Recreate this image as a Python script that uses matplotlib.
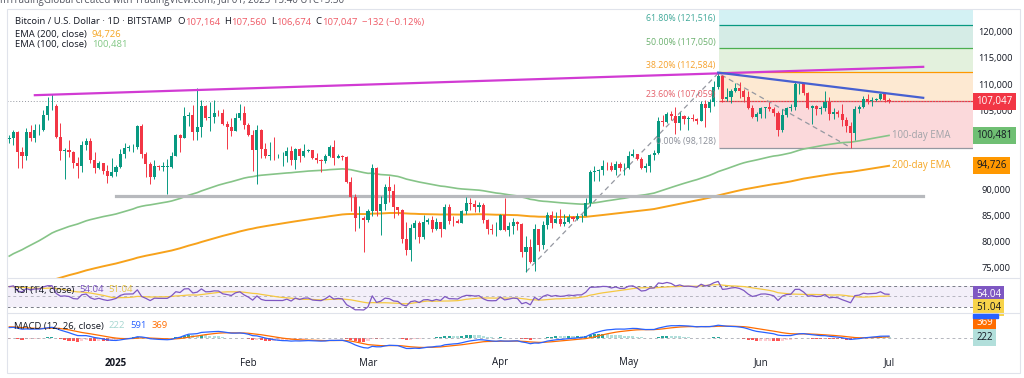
import numpy as np
import pandas as pd
import matplotlib
matplotlib.use("Agg")
import matplotlib.pyplot as plt
from matplotlib.patches import Rectangle
from matplotlib.transforms import blended_transform_factory

plt.rcParams['font.family'] = ['Open Sans', 'DejaVu Sans']

W, H = 1024, 378

# ---- daily BTC/USD (Bitstamp) from 2024-12-07 to 2025-07-01 ----
first_open = 99800  # close of Dec 6

closes_dec = [99900, 101150, 97350, 96600, 101150, 100000, 101400, 101400, 104300, 106050,
              106100, 100200, 97450, 97750, 97200, 95100, 94700, 98700, 99400, 95800,
              94200, 95100, 93700, 92800, 93400]
highs_dec = [100500, 101400, 101200, 98300, 101900, 102500, 102600, 102600, 105200, 107800,
             108300, 106500, 102800, 98000, 99500, 97400, 96400, 99400, 99900, 99900,
             97300, 95500, 95200, 94900, 96100]
lows_dec = [98900, 98700, 94200, 94300, 95700, 99300, 99200, 100600, 101200, 103300,
            105300, 100000, 95700, 92200, 96400, 94200, 92400, 93400, 97600, 95200,
            93300, 94100, 93000, 91400, 92600]

closes_jan = [94400, 96900, 98100, 98200, 98300, 102200, 96900, 95000, 92500, 94700,
              94500, 94500, 94500, 96500, 100500, 99900, 104100, 104400, 101100, 102000,
              106100, 103700, 103900, 104800, 104700, 102600, 102000, 101300, 103700, 104700, 102400]
highs_jan = [94900, 97800, 98900, 98700, 98800, 102500, 102700, 97200, 95300, 95800,
             94900, 95400, 95900, 97300, 100700, 100800, 105800, 104900, 106300, 109400,
             107200, 106300, 106800, 107100, 105300, 105500, 103200, 103700, 104800, 106400, 106000]
lows_jan = [92800, 94200, 96200, 97500, 97300, 97900, 96200, 92500, 91200, 92200,
            93800, 93700, 89200, 94300, 96500, 97300, 99900, 102300, 99600, 99500,
            100100, 103400, 101300, 102800, 104100, 102500, 97800, 100300, 101300, 103300, 101600]

closes_feb = [100600, 97700, 101400, 97800, 96600, 96600, 96500, 96500, 96500, 97400,
              95800, 97800, 96600, 97500, 97600, 96100, 95800, 95600, 96600, 98300,
              96200, 96600, 96300, 91500, 88700, 84700, 84700, 84400]
highs_feb = [102800, 101500, 102500, 101700, 99000, 99200, 100100, 96900, 97300, 98300,
             98500, 98100, 98000, 98800, 97900, 97700, 97000, 96000, 96900, 98700,
             99500, 96900, 96800, 96500, 92500, 89300, 87000, 85100]
lows_feb = [100300, 93700, 91200, 96200, 96200, 95700, 95700, 96100, 94700, 95300,
            94900, 94100, 95300, 96300, 97200, 96000, 95200, 93400, 95100, 96400,
            94900, 96100, 95800, 91300, 86100, 82300, 82800, 78200]

closes_mar = [86000, 94300, 86100, 87300, 90600, 89900, 86800, 86200, 80700, 78600,
              82900, 83700, 81100, 84000, 84300, 82600, 84000, 82700, 86900, 84200,
              84100, 83800, 86100, 87500, 87400, 86900, 87200, 84400, 82600, 82400, 82500]
highs_mar = [86500, 95000, 94400, 88900, 91100, 92800, 91200, 86900, 86500, 84000,
             83600, 84300, 84200, 85300, 84700, 85000, 84700, 84000, 87400, 87400,
             85100, 84500, 86200, 88800, 88500, 88200, 87800, 87500, 84600, 83500, 83900]
lows_mar = [83900, 85100, 85000, 81400, 86300, 87800, 84700, 85300, 80000, 77600,
            76600, 80800, 79900, 80800, 83600, 82000, 82500, 81100, 82600, 83600,
            83200, 83700, 83700, 85500, 86300, 85900, 85900, 83700, 81600, 81600, 81300]

closes_apr = [85200, 82500, 83100, 83900, 83500, 78300, 79200, 76300, 82600, 79600,
              83400, 85300, 83700, 84500, 83600, 84000, 84900, 84500, 85100, 85100,
              87500, 93400, 93700, 93900, 94700, 94600, 93800, 95000, 94200, 94200]
highs_apr = [85500, 88500, 83900, 84700, 84200, 83800, 81200, 80800, 83500, 82700,
             84200, 85800, 86100, 85800, 86500, 85500, 85500, 85100, 85600, 85400,
             88500, 93900, 94700, 94000, 95800, 95300, 95300, 95600, 95400, 95100]
lows_apr = [82400, 82300, 81200, 81600, 82400, 77200, 74450, 76200, 74600, 78500,
            78900, 82700, 82900, 83700, 83100, 83100, 83800, 84100, 84400, 83900,
            85100, 87000, 91700, 91700, 92900, 93900, 93600, 92900, 93700, 92900]

closes_may = [96500, 96900, 95900, 94300, 94700, 96800, 97000, 103200, 102900, 104600,
              104100, 102800, 104200, 103500, 103700, 103500, 103200, 106400, 105600, 106800,
              109600, 111700, 107300, 107800, 108900, 109400, 108900, 107800, 105600, 103900, 104600]
highs_may = [97400, 97900, 96900, 96300, 95200, 96900, 97700, 103900, 104300, 104900,
             105000, 105800, 104900, 104300, 104100, 104500, 103700, 107000, 107100, 107300,
             110800, 112250, 111900, 109500, 109300, 110400, 110700, 109300, 108900, 106300, 104900]
lows_may = [94100, 96300, 95700, 94000, 93500, 93400, 95800, 96900, 102300, 102800,
            103300, 100700, 101500, 102600, 101400, 103100, 102600, 103100, 102000, 104900,
            106100, 109300, 106800, 106900, 106600, 108800, 107600, 106800, 105400, 103700, 103100]

closes_jun = [105700, 105800, 105400, 104700, 101500, 104300, 105600, 105800, 110200, 110300,
              108600, 105700, 106000, 105400, 105600, 106800, 104600, 104900, 104600, 103300,
              102200, 100900, 105400, 105800, 107300, 106900, 107100, 107300, 108400, 107179]
highs_jun = [105900, 105900, 106800, 105900, 105000, 105400, 105900, 106400, 110600, 110400,
             110400, 108800, 106200, 106200, 106100, 108900, 107700, 105600, 105200, 106500,
             103900, 103000, 106000, 106200, 108000, 108300, 107700, 107600, 108500, 108800]
lows_jun = [103800, 103700, 105000, 104200, 100400, 101100, 103900, 105100, 105300, 108400,
            108100, 105400, 102700, 104300, 104600, 105000, 103400, 103600, 103900, 102300,
            101000, 98128, 99600, 104700, 105600, 106500, 106100, 106900, 107100, 106800]

closes_jul = [107047]
highs_jul = [107560]
lows_jul = [106674]

# closes before the visible window, only used to warm up RSI / MACD
warmup_closes = [75900, 76500, 76700, 80400, 88700, 87900, 90500, 87300, 91100, 90600,
                 89800, 90500, 92300, 94300, 98400, 98900, 97700, 98000, 93100, 91900,
                 95900, 95600, 97500, 96400, 97200, 95800, 96000, 98700, 96900, 99800]

# EMA values at the left edge of the chart
ema100_seed = 77000
ema200_seed = 69500

# values printed in the legends / scale tags
ohlc_last = [107164, 107560, 106674, 107047]
change_text = '−132 (−0.12%)'
ema200_last = 94726
ema100_last = 100481
rsi_last = 54.04
rsi_ma_last = 51.04
macd_hist_last = 222
macd_last = 591
signal_last = 369

# drawings
resistance_dates = ['2024-12-13', '2025-07-09']
resistance_prices = [108100, 113500]
falling_dates = ['2025-05-22', '2025-07-09']
falling_prices = [112400, 107600]
support_dates = ['2025-01-01', '2025-07-09']
support_price = 88900
fib_dates = ['2025-04-07', '2025-05-22', '2025-06-22']
fib_prices = [74450, 112294, 98128]
fib_ratios = [0, 0.236, 0.382, 0.5, 0.618, 1.0]
fib_line_colors = ['#9598a1', '#f23645', '#ff9800', '#4caf50', '#089981', '#089981']
fib_fill_colors = ['#fbd9db', '#fde9d2', '#e3f1dd', '#d5ece6', '#d3f1f4']
fib_text_colors = ['#8a8e98', '#e5616b', '#f5a02a', '#6bb06e', '#3fa898']

month_labels = ['2025', 'Feb', 'Mar', 'Apr', 'May', 'Jun', 'Jul']
month_dates = ['2025-01-01', '2025-02-01', '2025-03-01', '2025-04-01',
               '2025-05-01', '2025-06-01', '2025-07-01']
# 95,000 and 100,000 sit under the EMA tags, so TradingView hides them
price_ticks = [75000, 80000, 85000, 90000, 105000, 110000, 115000, 120000]

# ---- assemble ----
closes = np.array(closes_dec + closes_jan + closes_feb + closes_mar + closes_apr
                  + closes_may + closes_jun + closes_jul, dtype=float)
highs = np.array(highs_dec + highs_jan + highs_feb + highs_mar + highs_apr
                 + highs_may + highs_jun + highs_jul, dtype=float)
lows = np.array(lows_dec + lows_jan + lows_feb + lows_mar + lows_apr
                + lows_may + lows_jun + lows_jul, dtype=float)
opens = np.concatenate([[first_open], closes[:-1]])

T0 = pd.Timestamp('2025-01-01')


def day(s):
    return (pd.Timestamp(s) - T0).days


dates = pd.date_range('2024-12-07', periods=len(closes), freq='D')
x = np.array((dates - T0).days, dtype=float)


def ema(values, n, seed):
    a = 2.0 / (n + 1)
    out, e = [], seed
    for v in values:
        e = e + a * (v - e)
        out.append(e)
    return np.array(out)


def rsi(values, n=14):
    d = np.diff(values)
    g = np.clip(d, 0, None)
    l = np.clip(-d, 0, None)
    out = np.full(len(values), np.nan)
    ag, al = g[:n].mean(), l[:n].mean()
    out[n] = 100 - 100 / (1 + ag / al)
    for i in range(n, len(d)):
        ag = (ag * (n - 1) + g[i]) / n
        al = (al * (n - 1) + l[i]) / n
        out[i + 1] = 100 - 100 / (1 + ag / al)
    return out


ema100 = ema(closes, 100, ema100_seed)
ema200 = ema(closes, 200, ema200_seed)

full = np.concatenate([warmup_closes, closes])
nw = len(warmup_closes)
rsi_full = rsi(full)
rsi_ma = pd.Series(rsi_full).rolling(14).mean().values[nw:]
rsi_v = rsi_full[nw:]
macd_full = ema(full, 12, full[0]) - ema(full, 26, full[0])
signal_full = ema(macd_full, 9, macd_full[0])
macd = macd_full[nw:]
signal = signal_full[nw:]
hist = macd - signal
hist_prev = (macd_full - signal_full)[nw - 1:-1]

# ---- figure ----
fig = plt.figure(figsize=(W / 100, H / 100), dpi=100)
fig.patch.set_facecolor('white')


def fx(px):
    return px / W


def fy(py):
    return 1 - py / H


L, R = 7, 973
XL, XR = -25.52, 200.66
ax = fig.add_axes([fx(L), fy(278), fx(R) - fx(L), fy(9) - fy(278)])
ax_rsi = fig.add_axes([fx(L), fy(313), fx(R) - fx(L), fy(278) - fy(313)])
ax_macd = fig.add_axes([fx(L), fy(352), fx(R) - fx(L), fy(313) - fy(352)])
for a in (ax, ax_rsi, ax_macd):
    a.set_xlim(XL, XR)
    for s in a.spines.values():
        s.set_visible(False)
    a.set_xticks([])
    a.set_yticks([])
    a.set_facecolor('none')

ax.set_ylim(73286, 124513)
ax_rsi.set_ylim(18.6, 85.2)
ax_macd.set_ylim(-4700, 8300)

# frame and pane separators
fig.add_artist(Rectangle((fx(7), fy(373)), fx(1020) - fx(7), fy(9) - fy(373),
                         transform=fig.transFigure, fill=False, ec='#e0e3eb', lw=0.8))
for py in (278, 313):
    fig.add_artist(plt.Line2D([fx(7), fx(1020)], [fy(py), fy(py)],
                              transform=fig.transFigure, color='#e0e3eb', lw=0.8))

# fib extension zones
fib_a, fib_b, fib_c = fib_prices
rng = fib_b - fib_a
levels = [fib_c + r * rng for r in fib_ratios]
fx0 = day(fib_dates[1]) + 0.3
for i in range(5):
    ax.fill_between([fx0, XR], levels[i], levels[i + 1], color=fib_fill_colors[i], lw=0, zorder=0)
for i in range(5):
    ax.hlines(levels[i], fx0, XR, color=fib_line_colors[i], lw=0.9, zorder=1)
    ax.text(fx0 - 0.9, levels[i] + 250, f'{fib_ratios[i] * 100:.2f}% ({levels[i]:,.0f})',
            ha='right', va='bottom', fontsize=6.3, color=fib_text_colors[i], zorder=6)
ax.plot([day(d) for d in fib_dates], fib_prices, color='#9598a1', lw=0.9,
        ls=(0, (4, 3)), zorder=2)

# last price line
ax.axhline(closes[-1], color='#9598a1', lw=0.7, ls=(0, (1, 2)), zorder=1)

# moving averages
ax.plot(x, ema100, color='#86c488', lw=1.2, zorder=2)
ax.plot(x, ema200, color='#f7a21b', lw=1.4, zorder=2)
ax.text(x[-1] + 0.6, ema100[-1], '100-day EMA', color='#a0a3a8', fontsize=6.9, va='center')
ax.text(x[-1] + 0.6, ema200[-1], '200-day EMA', color='#f5a623', fontsize=6.9, va='center')

# horizontal support and trend lines
ax.plot([day(d) for d in support_dates], [support_price] * 2, color='#b7b9bd', lw=2.3, zorder=2)
ax.plot([day(d) for d in resistance_dates], resistance_prices, color='#d13bd3', lw=1.6, zorder=4)
ax.plot([day(d) for d in falling_dates], falling_prices, color='#4760d1', lw=1.6, zorder=4)

# candles
up = closes >= opens
cols = np.where(up, '#089981', '#f23645')
ax.vlines(x, lows, highs, colors=cols, lw=0.7, zorder=3)
ax.bar(x, np.maximum(np.abs(closes - opens), 60), bottom=np.minimum(opens, closes),
       width=0.72, color=cols, lw=0, zorder=3)

# price scale
for v in price_ticks:
    ax.text(1.0235, v, f'{v:,}', transform=ax.get_yaxis_transform(), ha='center',
            va='center', fontsize=6.7, color='#131722', clip_on=False)


def tag(a, value, text, fc, tc, dy=0):
    a.annotate(text, xy=(1, value), xycoords=a.get_yaxis_transform(),
               xytext=(2.3, dy), textcoords='offset points', ha='left', va='center',
               fontsize=7.0, color=tc, annotation_clip=False, zorder=10,
               bbox=dict(boxstyle='square,pad=0.32', fc=fc, ec='none'))


tag(ax, ohlc_last[3], f'{ohlc_last[3]:,}', '#f23645', 'white', dy=-0.8)
tag(ax, ema100_last, f'{ema100_last:,}', '#6fbf73', '#131722')
tag(ax, ema200_last, f'{ema200_last:,}', '#ff9800', '#131722')

# RSI pane
ax_rsi.axhspan(30, 70, color='#7e57c2', alpha=0.09, lw=0)
for lv, al in ((70, 1), (50, 0.5), (30, 1)):
    ax_rsi.axhline(lv, color='#787b86', lw=0.7, ls=(0, (3, 3)), alpha=al)
ax_rsi.plot(x, rsi_ma, color='#f5c842', lw=0.9)
ax_rsi.plot(x, rsi_v, color='#7e57c2', lw=0.9)
tag(ax_rsi, rsi_last, f'{rsi_last:.2f}', '#7e57c2', 'white')
tag(ax_rsi, rsi_last, f'{rsi_ma_last:.2f}', '#f7d34a', '#131722', dy=-9.5)

# MACD pane
ax_macd.axhline(0, color='#9598a1', lw=0.7, ls=(0, (3, 3)), alpha=0.7)
hcols = []
for h, hp in zip(hist, hist_prev):
    if h >= 0:
        hcols.append('#26a69a' if h > hp else '#b2dfdb')
    else:
        hcols.append('#ff5252' if h < hp else '#ffcdd2')
ax_macd.bar(x, hist, width=0.72, color=hcols, lw=0)
ax_macd.plot(x, signal, color='#ff6d00', lw=0.9)
ax_macd.plot(x, macd, color='#2962ff', lw=0.9)
# MACD tag, mostly hidden behind the signal tag
fig.add_artist(Rectangle((fx(973), fy(318)), fx(998) - fx(973), 4 / H,
                         transform=fig.transFigure, color='#2962ff', zorder=9))
tag(ax_macd, macd_hist_last, f'{signal_last:,}', '#ff6d00', 'white', dy=10.5)
tag(ax_macd, macd_hist_last, f'{macd_hist_last:,}', '#b2dfdb', '#131722')

# time axis
tx = blended_transform_factory(ax_macd.transData, fig.transFigure)
for lab, d in zip(month_labels, month_dates):
    ax_macd.text(day(d), fy(363), lab, transform=tx, ha='center', va='center', fontsize=7,
                 color='#131722', fontweight='bold' if lab == '2025' else 'normal',
                 clip_on=False)

# legends
fs = 6.8
fig.text(0.0, 1.0, 'mTradingGlobal created with TradingView.com, Jul 01, 2025 15:40 UTC+5:30',
         ha='left', va='center', fontsize=7, color='#50535e')


def chain(py, parts, px=15):
    r = fig.canvas.get_renderer()
    cur = px
    for txt, col, gap in parts:
        t = fig.text(fx(cur), fy(py), txt, ha='left', va='center', fontsize=fs, color=col, zorder=12)
        cur += t.get_window_extent(renderer=r).width + gap


red = '#ef5a66'
chain(22, [('Bitcoin / U.S. Dollar · 1D · BITSTAMP', '#131722', 5),
           ('O', '#131722', 0.5), (f'{ohlc_last[0]:,}', red, 4),
           ('H', '#131722', 0.5), (f'{ohlc_last[1]:,}', red, 4),
           ('L', '#131722', 0.5), (f'{ohlc_last[2]:,}', red, 4),
           ('C', '#131722', 0.5), (f'{ohlc_last[3]:,}', red, 5),
           (change_text, red, 0)])
chain(34, [('EMA (200, close)', '#131722', 5), (f'{ema200_last:,}', '#f5a623', 0)])
chain(45, [('EMA (100, close)', '#131722', 5), (f'{ema100_last:,}', '#81c784', 0)])
chain(290, [('RSI (14, close)', '#131722', 5), (f'{rsi_last:.2f}', '#7e57c2', 5),
            (f'{rsi_ma_last:.2f}', '#e8c547', 0)], px=14)
chain(326, [('MACD (12, 26, close)', '#131722', 5), (f'{macd_hist_last:,}', '#a5d6d0', 5),
            (f'{macd_last:,}', '#2962ff', 5), (f'{signal_last:,}', '#ff6d00', 0)], px=14)

fig.savefig('out.png', dpi=100, facecolor='white')
